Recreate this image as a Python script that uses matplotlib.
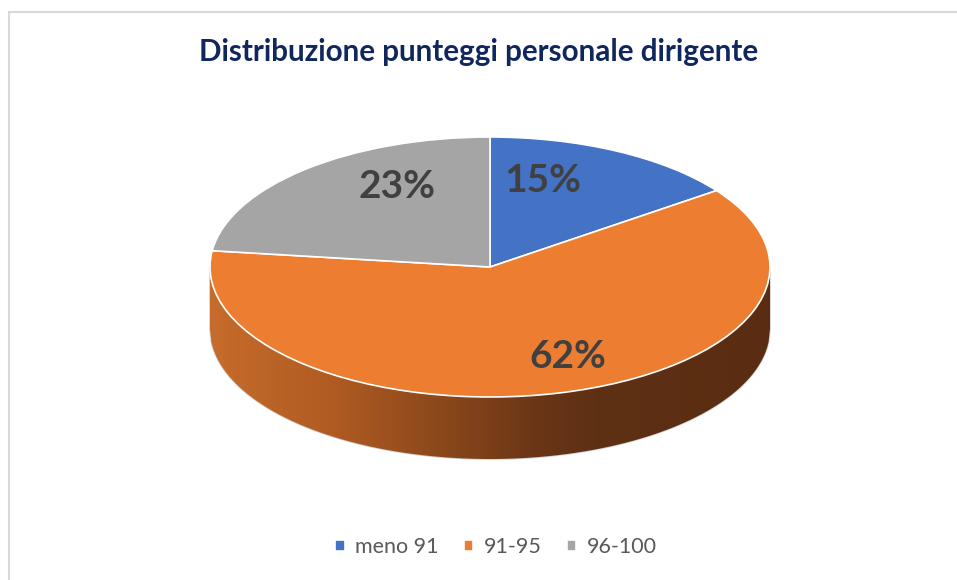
import matplotlib.pyplot as plt
import numpy as np
from matplotlib.colors import LinearSegmentedColormap
from matplotlib.patches import Rectangle

# data
categories = ['meno 91', '91-95', '96-100']
shares = [15, 62, 23]
colors = ['#4472C4', '#ED7D31', '#A5A5A5']
title = 'Distribuzione punteggi personale dirigente'

plt.rcParams['font.family'] = ['Lato', 'DejaVu Sans']

W, H = 957, 580
fig = plt.figure(figsize=(W / 100, H / 100), dpi=100)

# light frame (only top and left visible)
fig.add_artist(Rectangle((9 / W, -0.1), 1.2, 1.1 - 11.5 / H + 0.0,
                         transform=fig.transFigure, fill=False,
                         edgecolor='#D9D9D9', lw=1.5))

# pie geometry in pixels: centre, horizontal / vertical radius, wall depth
cx, cy, rx, ry, depth = 490, 267, 280, 130, 62
ax = fig.add_axes([0, 0, 1, 1])

# side wall of the 3d pie, shaded left -> right
d = depth / ry
xs = np.linspace(-1, 1, 400)
lower = -np.sqrt(1 - xs ** 2)
wall = ax.fill_between(xs, lower - d, lower, facecolor='none',
                       edgecolor='#CFCFCF', lw=1.2, zorder=1)
shade = LinearSegmentedColormap.from_list('wall', [
    (0.0, '#C66C2C'), (0.22, '#B05B22'), (0.48, '#7E4119'),
    (0.58, '#6B3616'), (0.69, '#5E3014'), (1.0, '#5A2D12')])
grad = np.linspace(0, 1, 256).reshape(1, -1)
im = ax.imshow(grad, cmap=shade, aspect='auto', extent=(-1, 1, -1 - d, 0),
               zorder=2, interpolation='bilinear')
im.set_clip_path(wall.get_paths()[0], transform=ax.transData)

# top face
wedges, _, autotexts = ax.pie(shares, colors=colors, startangle=90,
                              counterclock=False, radius=1,
                              autopct='%1.0f%%', pctdistance=0.7,
                              wedgeprops=dict(edgecolor='white', lw=1.2),
                              textprops=dict(fontsize=28, fontweight='bold',
                                             color='#404040'))
for w in wedges:
    w.set_zorder(3)

# label placement (pixels)
label_px = [(543, 181), (568, 356), (397, 187)]
for t, (px, py) in zip(autotexts, label_px):
    t.set_position(((px - cx) / rx, (cy - py) / ry))
    t.set_zorder(5)

ax.set_aspect('auto')
ax.set_xlim(-cx / rx, (W - cx) / rx)
ax.set_ylim((cy - H) / ry, cy / ry)
ax.axis('off')

fig.text(0.5, 1 - 52 / H, title, ha='center', va='center', fontsize=21.3,
         fontweight='bold', color='#10275E')

fig.legend(wedges, categories, loc='center',
           bbox_to_anchor=(496 / W, 1 - 547 / H),
           ncol=3, frameon=False, fontsize=15.5, labelcolor='#595959',
           handlelength=0.45, handleheight=0.45, handletextpad=0.5,
           columnspacing=1.15)

fig.savefig('out.png', dpi=100)
